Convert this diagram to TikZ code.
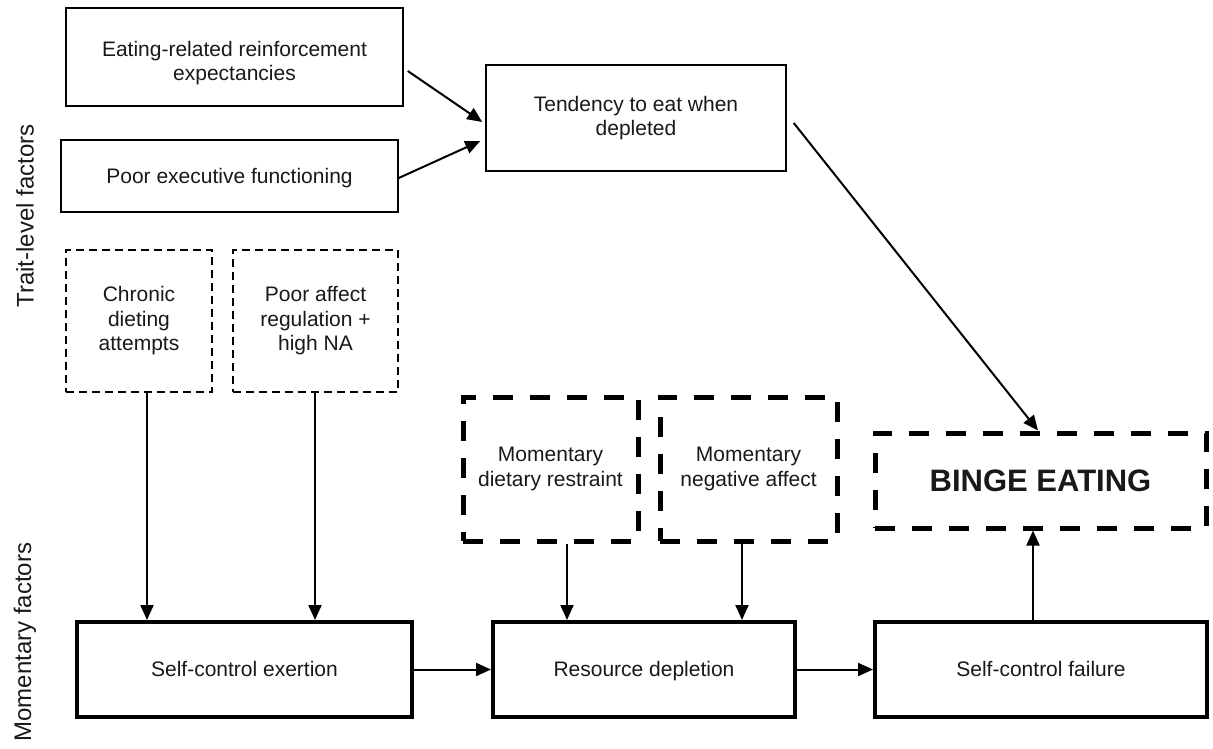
\documentclass[tikz,border=0pt]{standalone}
\usepackage{fontspec}
\setmainfont{Liberation Sans}
\usetikzlibrary{arrows.meta}
\begin{document}
\begin{tikzpicture}[x=1pt,y=-1pt,
  txt/.style={font=\fontsize{21pt}{24.5pt}\selectfont, align=center, inner sep=0pt, text=black!90},
  oneline/.style={text height=14pt, text depth=0pt},
  thinbox/.style={txt, draw, line width=1.5pt},
  thickbox/.style={txt, draw, line width=4pt},
  thindash/.style={txt, draw, line width=1.5pt, dash pattern=on 8pt off 5pt},
  thickdash/.style={txt, draw, line width=5pt, dash pattern=on 20pt off 17pt},
  arr/.style={-{Triangle[length=15pt,width=13pt]}, line width=2pt},
  side/.style={font=\fontsize{24pt}{28pt}\selectfont, rotate=90, inner sep=0pt, text=black!90}
]
\fill[white] (0,0) rectangle (1213,749);
\useasboundingbox (0,0) rectangle (1213,749);

\node[side] (tl) at (25,216) {Trait-level factors};
\node[side] (ml) at (25,642) {Momentary factors};

\node[thinbox, minimum width=337pt, minimum height=98pt] (b1) at (234.5,57) {};
\node[txt] (b1t) at (234.5,63) {Eating-related reinforcement\\expectancies};
\node[thinbox, oneline, minimum width=337pt, minimum height=72pt] (b2) at (229.5,176) {Poor executive functioning};
\node[thinbox, minimum width=300pt, minimum height=106pt] (b3) at (636,118) {Tendency to eat when\\depleted};

\node[thindash, minimum width=146pt, minimum height=142pt] (c1) at (139,321) {Chronic\\dieting\\attempts};
\node[thindash, minimum width=165pt, minimum height=142pt] (c2) at (315.5,321) {Poor affect\\regulation +\\high NA};

\node[thickdash, minimum width=175pt, minimum height=144pt] (m1) at (550.5,469) {Momentary\\dietary restraint};
\node[thickdash, minimum width=177pt, minimum height=144pt] (m2) at (748.5,469) {Momentary\\negative affect};

\node[thickdash, minimum width=331pt, minimum height=95pt, text height=22pt, text depth=0pt, font=\fontsize{31pt}{34pt}\selectfont\bfseries] (be) at (1040.5,480.5) {BINGE EATING};

\node[thickbox, oneline, minimum width=335pt, minimum height=95pt] (s1) at (244.5,669.5) {Self-control exertion};
\node[thickbox, oneline, minimum width=302pt, minimum height=95pt] (s2) at (644,669.5) {Resource depletion};
\node[thickbox, oneline, minimum width=332pt, minimum height=95pt] (s3) at (1041,669.5) {Self-control failure};

\draw[arr] ([shift={(4pt,-14pt)}]b1.east) -- ([shift={(-3pt,-4pt)}]b3.west);
\draw[arr] ([yshift=-2pt]b2.east) -- ([shift={(-5pt,-23pt)}]b3.west);
\draw[arr] ([shift={(7pt,-5pt)}]b3.east) -- ([xshift=-2.5pt]be.north);

\draw[arr] ([xshift=8pt]c1.south) -- ([xshift=8pt]c1.south |- s1.north);
\draw[arr] ([xshift=-0.5pt]c2.south) -- ([xshift=-0.5pt]c2.south |- s1.north);
\draw[arr] ([xshift=16.5pt]m1.south) -- ([xshift=16.5pt]m1.south |- s2.north);
\draw[arr] ([xshift=-6.5pt]m2.south) -- ([xshift=-6.5pt]m2.south |- s2.north);

\draw[arr] (s1.east) -- (s2.west);
\draw[arr] (s2.east) -- (s3.west);
\draw[arr] ([xshift=-8pt]s3.north) -- ([xshift=-8pt]s3.north |- be.south);
\end{tikzpicture}
\end{document}
